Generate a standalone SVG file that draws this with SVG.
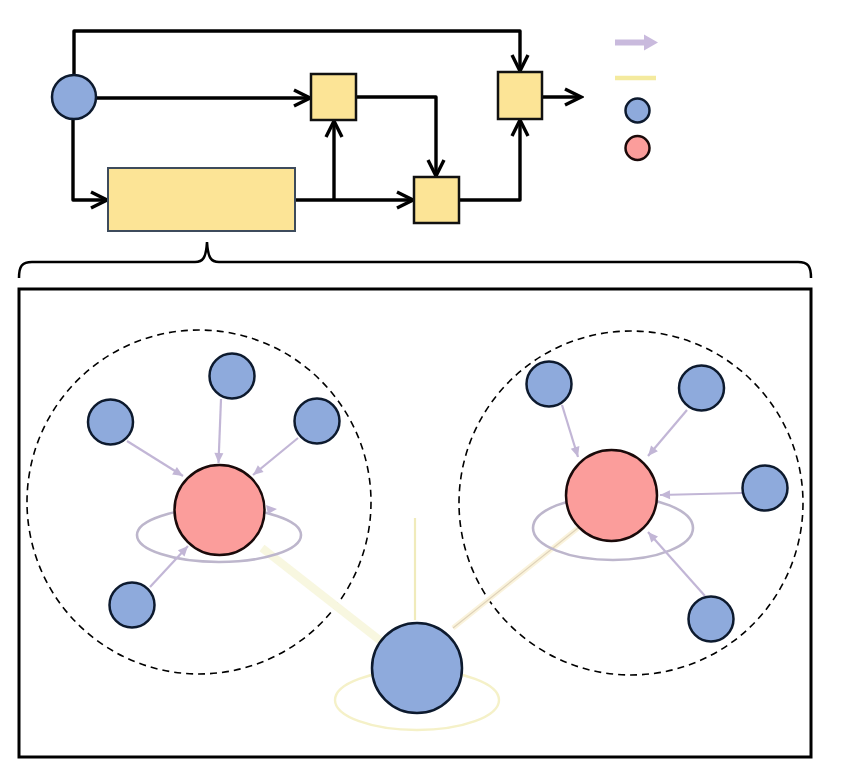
<svg xmlns="http://www.w3.org/2000/svg" width="844" height="768" viewBox="0 0 844 768">
<style>
.blue{fill:#8eaadc;stroke:#0d1a2e;stroke-width:2.5}
.red{fill:#fb9d9b;stroke:#1a0a0a;stroke-width:2.5}
.box{fill:#fce496;stroke:#111;stroke-width:2.5}
.flow{fill:none;stroke:#000;stroke-width:3.4;stroke-linejoin:round}
.dash{fill:none;stroke:#000;stroke-width:1.6;stroke-dasharray:7,5}
.pa{fill:none;stroke:#c2b6d6;stroke-width:2.2}
.loop{fill:none;stroke:#bdb6cc;stroke-width:2.6}
.yel{fill:none;stroke:#f5f1c8;stroke-width:2.4}
</style>
<defs>
<marker id="chev" markerUnits="userSpaceOnUse" markerWidth="20" markerHeight="20" viewBox="0 0 20 20" refX="17" refY="10" orient="auto">
<path d="M1,2 L17,10 L1,18" fill="none" stroke="#000" stroke-width="3.4"/>
</marker>
<marker id="ptri" markerUnits="userSpaceOnUse" markerWidth="12" markerHeight="12" viewBox="0 0 12 12" refX="11" refY="6" orient="auto">
<path d="M1,1.5 L11,6 L1,10.5 Z" fill="#c2b6d6"/>
</marker>
</defs>
<rect width="844" height="768" fill="#fff"/>

<g id="connectors">
<path class="flow" d="M74,75 V31 H520 V71" marker-end="url(#chev)"/>
<path class="flow" d="M96,98 H310" marker-end="url(#chev)"/>
<path class="flow" d="M356,97 H436 V176" marker-end="url(#chev)"/>
<path class="flow" d="M73,119 V200 H107" marker-end="url(#chev)"/>
<path class="flow" d="M295,200 H413" marker-end="url(#chev)"/>
<path class="flow" d="M334,200 V121" marker-end="url(#chev)"/>
<path class="flow" d="M459,200 H520 V120" marker-end="url(#chev)"/>
<path class="flow" d="M542,97 H581" marker-end="url(#chev)"/>
<path fill="none" stroke="#000" stroke-width="2.5" d="M19,278 C19,266 22,262 32,262 H195 C203,262 206,258 207,242 C208,258 211,262 219,262 H798 C808,262 811,266 811,278"/>
</g>

<g id="flow-circle"><circle class="blue" cx="74" cy="97" r="22"/></g>
<g id="box-mid"><rect class="box" x="311" y="74" width="45" height="46"/></g>
<g id="box-bottom"><rect class="box" x="414" y="177" width="45" height="46"/></g>
<g id="box-out"><rect class="box" x="498" y="72" width="44" height="47"/></g>
<g id="big-box"><rect x="108" y="168" width="187" height="63" fill="#fce496" stroke="#3d4b5c" stroke-width="2"/></g>

<g id="legend">
<line x1="615" y1="42.5" x2="646" y2="42.5" stroke="#c9badd" stroke-width="6"/>
<polygon points="644,34.5 658,42.5 644,50.5" fill="#c9badd"/>
<line x1="615" y1="78" x2="656" y2="78" stroke="#f4ea9e" stroke-width="4.5"/>
<circle class="blue" cx="637.5" cy="110.5" r="12"/>
<circle class="red" cx="637.5" cy="148" r="12"/>
</g>

<g id="panel">
<rect x="19" y="289" width="792" height="468" fill="none" stroke="#000" stroke-width="3"/>
</g>

<g id="cluster-left">
<circle class="dash" cx="199" cy="502" r="172"/>
</g>
<g id="cluster-right">
<circle class="dash" cx="631" cy="503" r="172"/>
</g>

<g id="bottom-links">
<line x1="262" y1="548" x2="382" y2="642" stroke="#f8f7e0" stroke-width="8"/>
<line x1="415" y1="518" x2="415" y2="620" stroke="#f0ebbb" stroke-width="2.2"/>
<line x1="453" y1="628" x2="578" y2="528" stroke="#faf3dc" stroke-width="5"/>
<line x1="453" y1="628" x2="578" y2="528" stroke="#dfd2b8" stroke-width="1.2"/>
</g>

<g id="loops">
<ellipse class="loop" cx="219" cy="535" rx="82" ry="27"/>
<path d="M266,505 L277,509 L268,514 Z" fill="#c2b6d6"/>
<ellipse class="loop" cx="613" cy="528" rx="80" ry="32"/>
<ellipse class="yel" cx="417" cy="700" rx="82" ry="30"/>
</g>

<g id="arrows-left">
<line class="pa" x1="221" y1="399" x2="218.5" y2="463" marker-end="url(#ptri)"/>
<line class="pa" x1="127" y1="441" x2="183" y2="476" marker-end="url(#ptri)"/>
<line class="pa" x1="298" y1="438" x2="253" y2="475" marker-end="url(#ptri)"/>
<line class="pa" x1="150" y1="587" x2="188" y2="546" marker-end="url(#ptri)"/>
</g>
<g id="arrows-right">
<line class="pa" x1="562" y1="405" x2="578" y2="457" marker-end="url(#ptri)"/>
<line class="pa" x1="687" y1="410" x2="648" y2="456" marker-end="url(#ptri)"/>
<line class="pa" x1="742" y1="493" x2="660" y2="495" marker-end="url(#ptri)"/>
<line class="pa" x1="705" y1="596" x2="648" y2="532" marker-end="url(#ptri)"/>
</g>

<g id="red-left"><circle class="red" cx="219.5" cy="510" r="45"/></g>
<g id="red-right"><circle class="red" cx="611.5" cy="495.5" r="45.5"/></g>
<g id="hub"><circle class="blue" cx="417" cy="668" r="45"/></g>

<g id="left-top"><circle class="blue" cx="232" cy="376" r="22.5"/></g>
<g id="left-left"><circle class="blue" cx="110.5" cy="422" r="22.5"/></g>
<g id="left-right"><circle class="blue" cx="317" cy="421" r="22.5"/></g>
<g id="left-bottom"><circle class="blue" cx="132" cy="605" r="22.5"/></g>

<g id="right-topleft"><circle class="blue" cx="549" cy="384" r="22.5"/></g>
<g id="right-topright"><circle class="blue" cx="701.5" cy="388" r="22.5"/></g>
<g id="right-right"><circle class="blue" cx="765" cy="488" r="22.5"/></g>
<g id="right-bottom"><circle class="blue" cx="711" cy="619" r="22.5"/></g>
</svg>
